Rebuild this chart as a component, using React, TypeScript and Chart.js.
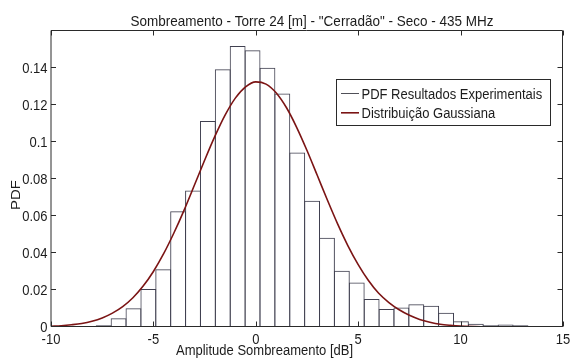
import React, { useEffect, useRef } from "react";
import { Chart, registerables } from "chart.js";

Chart.register(...registerables);

// Histogram bin centres [dB] and experimental PDF values
const BIN_CENTERS = [
  -7.427, -6.7, -5.973, -5.247, -4.52, -3.793, -3.066, -2.339, -1.613, -0.886,
  -0.159, 0.568, 1.295, 2.022, 2.748, 3.475, 4.202, 4.929, 5.656, 6.382,
  7.109, 7.836, 8.563, 9.29, 10.016, 10.743, 11.47, 12.197, 12.924,
];
const PDF_VALUES = [
  0.001, 0.0047, 0.0101, 0.0205, 0.0312, 0.0626, 0.0738, 0.1114, 0.1393, 0.1519,
  0.1496, 0.1402, 0.1262, 0.0943, 0.0682, 0.0482, 0.0304, 0.0241, 0.0151, 0.0097,
  0.0106, 0.0123, 0.0115, 0.0077, 0.0031, 0.0018, 0.0009, 0.0014, 0.0009,
];

// Gaussian curve
const GAUSS_X = [
  -10, -9.5, -9, -8.5, -8, -7.5, -7, -6.5, -6, -5.5, -5, -4.5, -4, -3.5, -3, -2.5,
  -2, -1.5, -1, -0.5, 0, 0.5, 1, 1.5, 2, 2.5, 3, 3.5, 4, 4.5, 5, 5.5, 6, 6.5, 7,
  7.5, 8, 8.5, 9, 9.5, 10, 11, 12, 13, 15,
];
const GAUSS_Y = [
  0.0004, 0.0007, 0.0012, 0.0019, 0.0031, 0.0049, 0.0075, 0.011, 0.0158, 0.0221,
  0.03, 0.0396, 0.0508, 0.0632, 0.0766, 0.0901, 0.103, 0.1145, 0.1237, 0.1298,
  0.1325, 0.1313, 0.1265, 0.1185, 0.1078, 0.0954, 0.082, 0.0685, 0.0556, 0.0439,
  0.0337, 0.0251, 0.0182, 0.0132, 0.0093, 0.0063, 0.0041, 0.0026, 0.0015, 0.0009,
  0.0005, 0.00015, 0.00004, 0.00001, 0,
];

const X_TICKS = [-10, -5, 0, 5, 10, 15];
const X_TICK_LABELS = ["-10", "-5", "0", "5", "10", "15"];
const Y_TICKS = [0, 0.02, 0.04, 0.06, 0.08, 0.1, 0.12, 0.14];
const Y_TICK_LABELS = ["0", "0.02", "0.04", "0.06", "0.08", "0.1", "0.12", "0.14"];

const TITLE = 'Sombreamento - Torre 24 [m] - "Cerradão" - Seco - 435 MHz';
const X_LABEL = "Amplitude Sombreamento [dB]";
const Y_LABEL = "PDF";
const LEGEND_LABELS = ["PDF Resultados Experimentais", "Distribuição Gaussiana"];

const FONT = '"Liberation Sans", Arial, sans-serif';
const TEXT = "#1c1c1c";
const STRETCH = 1.15;

function drawText(
  ctx: CanvasRenderingContext2D,
  s: string,
  x: number,
  y: number,
  size: number,
  align: CanvasTextAlign,
  rotated = false
) {
  ctx.save();
  ctx.translate(x, y);
  if (rotated) {
    ctx.rotate(-Math.PI / 2);
    ctx.scale(STRETCH, 1);
  } else {
    ctx.scale(1, STRETCH);
  }
  ctx.font = `${size}px ${FONT}`;
  ctx.fillStyle = TEXT;
  ctx.textAlign = align;
  ctx.textBaseline = "alphabetic";
  ctx.fillText(s, 0, 0);
  ctx.restore();
}

const decorPlugin = {
  id: "decor",
  afterDraw(chart: any) {
    const ctx: CanvasRenderingContext2D = chart.ctx;
    const xs = chart.scales.x;
    const ys = chart.scales.y;
    const L = 51,
      T = 30.5,
      R = 562.5,
      B = 326.5;
    ctx.save();
    ctx.strokeStyle = "#2a2a2a";
    ctx.lineWidth = 1;
    ctx.beginPath();
    ctx.moveTo(L, T);
    ctx.lineTo(R, T);
    ctx.lineTo(R, B);
    ctx.lineTo(L, B);
    ctx.closePath();
    ctx.stroke();
    const tl = 5;
    ctx.beginPath();
    X_TICKS.forEach((v) => {
      const px = Math.round(xs.getPixelForValue(v)) + 0.5;
      ctx.moveTo(px, B);
      ctx.lineTo(px, B - tl);
      ctx.moveTo(px, T);
      ctx.lineTo(px, T + tl);
    });
    Y_TICKS.forEach((v) => {
      const py = Math.round(ys.getPixelForValue(v)) - 0.5;
      ctx.moveTo(L, py);
      ctx.lineTo(L + tl, py);
      ctx.moveTo(R, py);
      ctx.lineTo(R - tl, py);
    });
    ctx.stroke();
    ctx.restore();

    X_TICKS.forEach((v, i) => {
      drawText(ctx, X_TICK_LABELS[i], xs.getPixelForValue(v), 344, 13, "center");
    });
    Y_TICKS.forEach((v, i) => {
      drawText(ctx, Y_TICK_LABELS[i], 47.5, ys.getPixelForValue(v) + 5.3, 13, "right");
    });
    drawText(ctx, TITLE, 312, 25.5, 13.5, "center");
    drawText(ctx, X_LABEL, 264.5, 355, 13, "center");
    drawText(ctx, Y_LABEL, 20, 195, 13, "center", true);

    // legend
    ctx.save();
    ctx.fillStyle = "#ffffff";
    ctx.fillRect(337, 80, 213, 45);
    ctx.strokeStyle = "#2a2a2a";
    ctx.lineWidth = 1;
    ctx.strokeRect(336.5, 79.5, 214, 46);
    ctx.strokeStyle = "#505058";
    ctx.lineWidth = 1;
    ctx.beginPath();
    ctx.moveTo(341, 93.5);
    ctx.lineTo(359, 93.5);
    ctx.stroke();
    ctx.strokeStyle = "#7b1414";
    ctx.lineWidth = 1.6;
    ctx.beginPath();
    ctx.moveTo(341, 112.8);
    ctx.lineTo(359, 112.8);
    ctx.stroke();
    ctx.restore();
    drawText(ctx, LEGEND_LABELS[0], 361.5, 98.5, 13, "left");
    drawText(ctx, LEGEND_LABELS[1], 361.5, 118, 13, "left");
  },
};

export default function App() {
  const ref = useRef<HTMLCanvasElement | null>(null);
  useEffect(() => {
    if (!ref.current) return;
    const bars = BIN_CENTERS.map((x, i) => ({ x, y: PDF_VALUES[i] }));
    const gauss = GAUSS_X.map((x, i) => ({ x, y: GAUSS_Y[i] }));
    const chart = new Chart(ref.current, {
      type: "bar",
      data: {
        datasets: [
          {
            type: "line",
            label: LEGEND_LABELS[1],
            data: gauss,
            borderColor: "#7b1414",
            borderWidth: 1.6,
            pointRadius: 0,
            cubicInterpolationMode: "monotone",
            fill: false,
            order: 0,
          } as any,
          {
            type: "bar",
            label: LEGEND_LABELS[0],
            data: bars,
            backgroundColor: "rgba(255,255,255,0)",
            borderColor: "#404050",
            borderWidth: 1,
            borderSkipped: false,
            barPercentage: 1.067,
            categoryPercentage: 1,
            order: 1,
          } as any,
        ],
      },
      options: {
        animation: false,
        responsive: false,
        maintainAspectRatio: false,
        devicePixelRatio: 1,
        events: [],
        layout: { padding: { left: 51, right: 7, top: 31, bottom: 32 } },
        scales: {
          x: { type: "linear", min: -10, max: 15, offset: false, display: false },
          y: { type: "linear", min: 0, max: 0.16, display: false },
        },
        plugins: {
          legend: { display: false },
          tooltip: { enabled: false },
          title: { display: false },
        },
      } as any,
      plugins: [decorPlugin],
    });
    return () => chart.destroy();
  }, []);
  return (
    <div
      style={{
        position: "absolute",
        left: 0,
        top: 0,
        width: 570,
        height: 359,
        background: "#ffffff",
      }}
    >
      <canvas ref={ref} width={570} height={359} style={{ display: "block" }} />
    </div>
  );
}
